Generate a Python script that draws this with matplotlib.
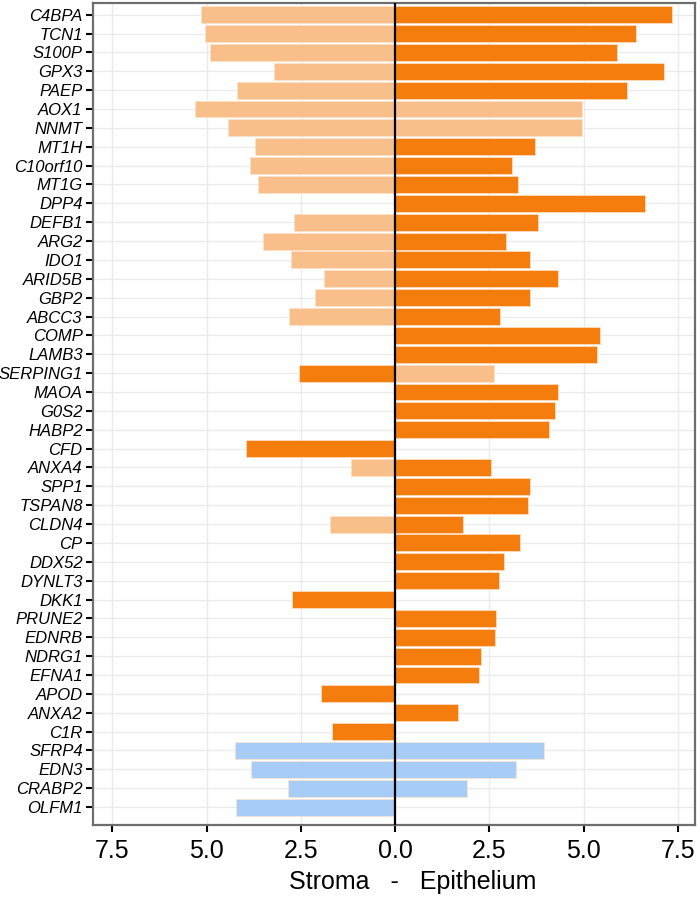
import matplotlib
matplotlib.use('Agg')
import matplotlib.pyplot as plt
import numpy as np

genes = ['C4BPA', 'TCN1', 'S100P', 'GPX3', 'PAEP', 'AOX1', 'NNMT', 'MT1H',
         'C10orf10', 'MT1G', 'DPP4', 'DEFB1', 'ARG2', 'IDO1', 'ARID5B', 'GBP2',
         'ABCC3', 'COMP', 'LAMB3', 'SERPING1', 'MAOA', 'G0S2', 'HABP2', 'CFD',
         'ANXA4', 'SPP1', 'TSPAN8', 'CLDN4', 'CP', 'DDX52', 'DYNLT3', 'DKK1',
         'PRUNE2', 'EDNRB', 'NDRG1', 'EFNA1', 'APOD', 'ANXA2', 'C1R', 'SFRP4',
         'EDN3', 'CRABP2', 'OLFM1']

# stroma side (drawn to the left)
stroma = [5.15, 5.03, 4.92, 3.21, 4.18, 5.32, 4.44, 3.71,
          3.85, 3.63, 0, 2.67, 3.49, 2.76, 1.88, 2.13,
          2.81, 0, 0, 2.54, 0, 0, 0, 3.95,
          1.17, 0, 0, 1.72, 0, 0, 0, 2.73,
          0, 0, 0, 0, 1.97, 0, 1.66, 4.24,
          3.83, 2.83, 4.21]
# epithelium side (drawn to the right)
epith = [7.36, 6.38, 5.89, 7.14, 6.15, 4.95, 4.95, 3.72,
         3.11, 3.27, 6.63, 3.79, 2.94, 3.58, 4.33, 3.59,
         2.79, 5.44, 5.37, 2.62, 4.32, 4.25, 4.09, 0,
         2.54, 3.58, 3.52, 1.80, 3.31, 2.89, 2.76, 0,
         2.69, 2.65, 2.29, 2.22, 0, 1.68, 0, 3.96,
         3.21, 1.92, 0]

# group per bar: d = dark orange, l = light orange, b = blue
stroma_grp = (['l'] * 19 + ['d', 'd', 'd', 'd', 'd', 'l', 'd', 'd', 'l']
              + ['d'] * 11 + ['b'] * 4)
epith_grp = (['d'] * 5 + ['l', 'l'] + ['d'] * 12 + ['l'] + ['d'] * 19 + ['b'] * 4)

colors = {'d': '#F47D0E', 'l': '#F8BF8B', 'b': '#A7CCF6'}

plt.rcParams['font.family'] = ['Liberation Sans', 'DejaVu Sans']

fig = plt.figure(figsize=(7, 8.98), dpi=100)
ax = fig.add_axes([0.133, 0.0813, 0.86, 0.9154])

y = np.arange(len(genes))
ax.barh(y, [-v for v in stroma], height=0.9, color=[colors[g] for g in stroma_grp],
        edgecolor='#FFE3C8', linewidth=0.5, zorder=2)
ax.barh(y, epith, height=0.9, color=[colors[g] for g in epith_grp],
        edgecolor='#FFE3C8', linewidth=0.5, zorder=2)

ax.axvline(0, color='black', linewidth=1.6, zorder=3)

ax.set_xlim(-8.01, 7.96)
ax.set_ylim(len(genes) - 1 + 0.95, -0.62)

xt = [-7.5, -5.0, -2.5, 0.0, 2.5, 5.0, 7.5]
ax.set_xticks(xt)
ax.set_xticklabels(['%.1f' % abs(v) for v in xt], fontsize=18)
ax.set_yticks(y)
ax.set_yticklabels(genes, fontsize=12, style='italic')

ax.grid(True, color='#EBEBEB', linewidth=1.0, zorder=0)
ax.set_axisbelow(True)
ax.tick_params(axis='both', direction='out', length=5, width=1.5, color='black',
               labelcolor='black')
ax.tick_params(axis='x', pad=5)
ax.tick_params(axis='y', pad=2.5)
for s in ax.spines.values():
    s.set_color('#6E6E6E')
    s.set_linewidth(1.6)

ax.set_xlabel('Stroma   -   Epithelium', fontsize=18, labelpad=5)
ax.xaxis.set_label_coords(0.531, -0.055)

fig.savefig('out.png', dpi=100)
